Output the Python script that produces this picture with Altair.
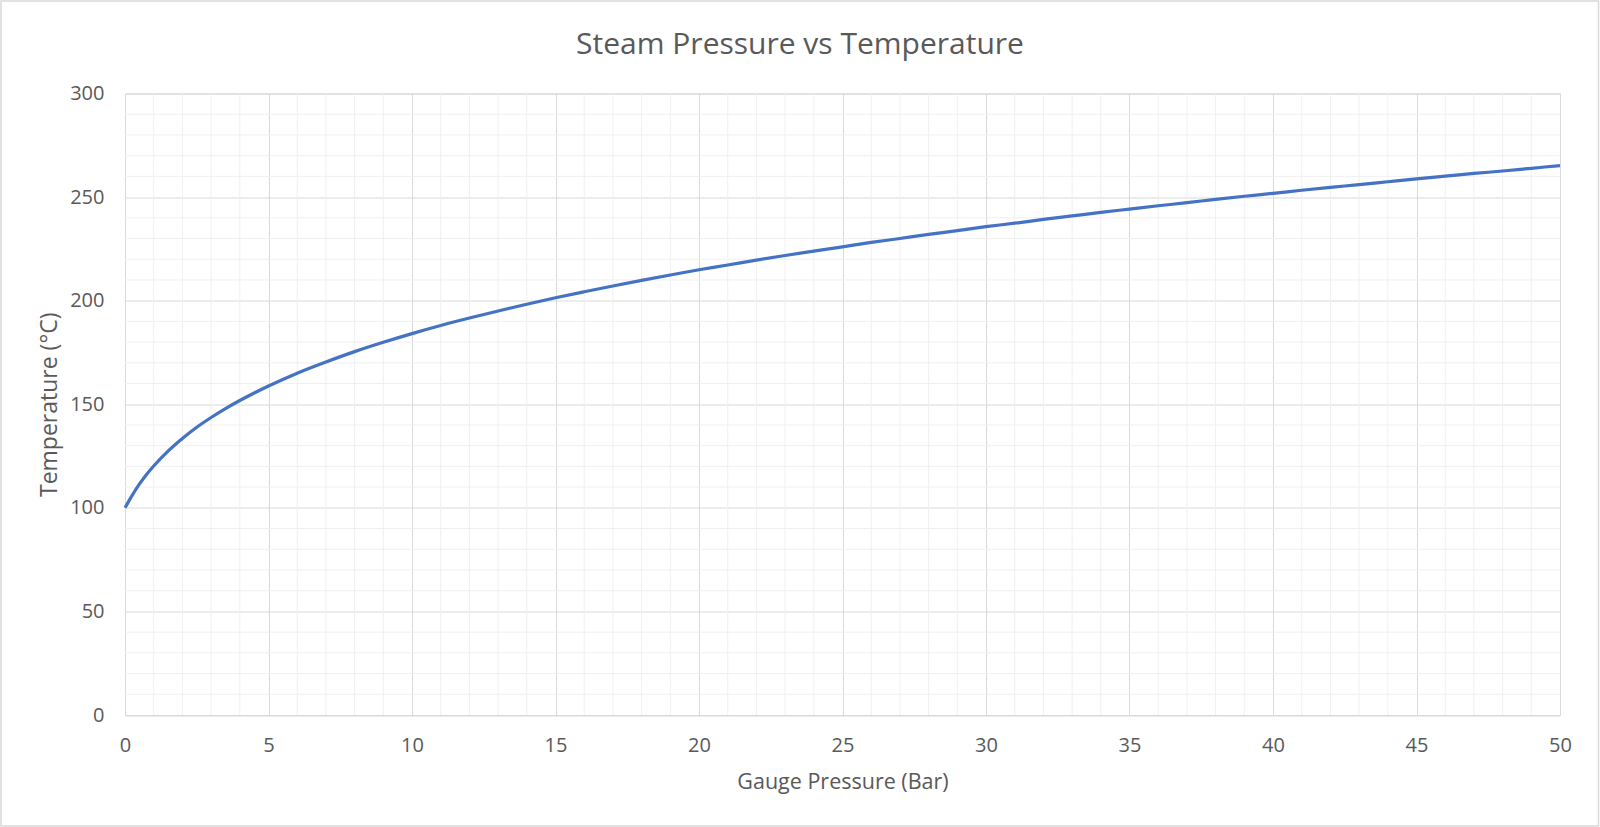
import altair as alt
import pandas as pd

# Saturated steam: gauge pressure (bar) against temperature (°C)
pressure_bar = [0, 0.25, 0.5, 0.75, 1, 1.5, 2, 2.5, 3, 3.5, 4,
                5, 6, 7, 8, 9, 10, 11, 12, 13, 14, 15, 16, 17, 18, 19, 20,
                21, 22, 23, 24, 25, 26, 27, 28, 29, 30, 31, 32, 33, 34, 35,
                36, 37, 38, 39, 40, 41, 42, 43, 44, 45, 46, 47, 48, 49, 50]
temperature_c = [100.0, 106.0, 111.4, 116.1, 120.2, 127.4, 133.5, 138.9, 143.6, 147.9, 151.8,
                 158.8, 165.0, 170.4, 175.4, 179.9, 184.1, 188.0, 191.6, 195.0, 198.3, 201.4,
                 204.3, 207.1, 209.8, 212.4, 214.9, 217.2, 219.6, 221.8, 223.9, 226.0,
                 228.1, 230.0, 232.0, 233.8, 235.7, 237.4, 239.2, 240.9, 242.6, 244.2,
                 245.8, 247.3, 248.9, 250.4, 251.8, 253.3, 254.7, 256.0, 257.4, 258.8,
                 260.1, 261.4, 262.6, 263.9, 265.2]

x_major = [0, 5, 10, 15, 20, 25, 30, 35, 40, 45, 50]
y_major = [0, 50, 100, 150, 200, 250, 300]
x_minor = [v for v in range(0, 51) if v % 5]
y_minor = [v for v in range(0, 301, 10) if v % 50]

chart_title = "Steam Pressure vs Temperature"

W, H = 1435, 621.5
PAD_L, PAD_T, PAD_R, PAD_B = 125, 93.5, 40, 112

TEXT = "#595959"
FONT = "Open Sans"
LINE_BLUE = "#4472C4"

df = pd.DataFrame({"pressure": pressure_bar, "temp": temperature_c})
xscale = alt.Scale(domain=[0, 50], nice=False, zero=False)
yscale = alt.Scale(domain=[0, 300], nice=False)

x_axis = alt.Axis(values=x_major, title="Gauge Pressure (Bar)",
                  grid=True, gridColor="#d9d9d9", gridWidth=1,
                  domain=False, ticks=False, labelPadding=20,
                  labelBaseline="top", labelFlush=False,
                  titleY=73, titleBaseline="alphabetic")
y_axis = alt.Axis(values=y_major, title="Temperature (°C)",
                  grid=True, gridColor="#d9d9d9", gridWidth=1,
                  domain=False, ticks=False, labelPadding=21,
                  labelFlush=False, titleFontSize=23,
                  titleX=-69, titleBaseline="alphabetic")

# outer chart border
frame = alt.Chart(pd.DataFrame({"k": [0]})).mark_rect(
    fill="white", fillOpacity=0, stroke="#d9d9d9", strokeWidth=1.5
).encode(
    x=alt.value(1 - PAD_L), x2=alt.value(1598.5 - PAD_L),
    y=alt.value(1 - PAD_T), y2=alt.value(826 - PAD_T),
)

# chart title, centred on the whole canvas
title = alt.Chart(pd.DataFrame({"t": [chart_title]})).mark_text(
    font=FONT, fontSize=30, color=TEXT, align="center", baseline="alphabetic"
).encode(
    text="t:N", x=alt.value(800 - PAD_L), y=alt.value(53.5 - PAD_T),
)

# minor gridlines
minor_v = alt.Chart(pd.DataFrame({"pressure": x_minor})).mark_rule(
    color="#f0f0f0", strokeWidth=1
).encode(x=alt.X("pressure:Q", scale=xscale, axis=x_axis))

minor_h = alt.Chart(pd.DataFrame({"temp": y_minor})).mark_rule(
    color="#f0f0f0", strokeWidth=1
).encode(y=alt.Y("temp:Q", scale=yscale, axis=y_axis))

line = alt.Chart(df).mark_line(
    color=LINE_BLUE, strokeWidth=3.2, interpolate="monotone"
).encode(
    x=alt.X("pressure:Q", scale=xscale, axis=x_axis),
    y=alt.Y("temp:Q", scale=yscale, axis=y_axis),
)

chart = alt.layer(frame, minor_v, minor_h, line, title).properties(
    width=W, height=H,
    autosize=alt.AutoSizeParams(type="none"),
    padding={"left": PAD_L, "top": PAD_T, "right": PAD_R, "bottom": PAD_B},
    background="white",
).configure_view(
    stroke="#d9d9d9", strokeWidth=1
).configure_axis(
    labelFont=FONT, labelFontSize=20, labelColor=TEXT,
    titleFont=FONT, titleFontSize=21.5, titleColor=TEXT, titleFontWeight="normal",
)

chart.save("out.html", embed_options={"renderer": "svg", "actions": False})
